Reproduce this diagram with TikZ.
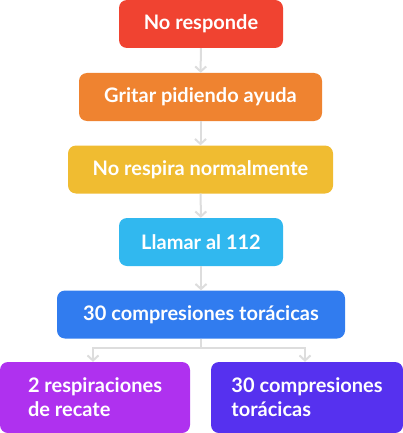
\documentclass[tikz,border=0pt]{standalone}
\usepackage{fontspec}
\setmainfont{Lato}
\usetikzlibrary{arrows.meta}
\definecolor{rojo}{HTML}{F04331}
\definecolor{naranja}{HTML}{EF8330}
\definecolor{amarillo}{HTML}{F0BC31}
\definecolor{celeste}{HTML}{31B8EF}
\definecolor{azul}{HTML}{317CEF}
\definecolor{morado}{HTML}{AF31EF}
\definecolor{indigo}{HTML}{5631EF}
\definecolor{flecha}{HTML}{DDDDDD}
\tikzset{
  paso/.style={rounded corners=8pt, text=white, inner sep=0pt, align=left,
    font=\bfseries\fontsize{20}{24}\selectfont},
  arr/.style={draw=flecha, line width=2pt, -{Straight Barb[length=5pt,width=11pt]}}
}

\begin{document}
\begin{tikzpicture}[x=1pt, y=-1pt]
    \useasboundingbox (0, 0) rectangle (403, 433);
    % pasos
    \node[paso, fill=rojo, minimum width=164pt, minimum height=48pt] (p1) at (201, 24) {No responde};
    \node[paso, fill=naranja, minimum width=243pt, minimum height=48pt] (p2) at (200.5, 97) {Gritar pidiendo ayuda};
    \node[paso, fill=amarillo, minimum width=265pt, minimum height=48pt] (p3) at (200.5, 169.5) {No respira normalmente};
    \node[paso, fill=celeste, minimum width=164pt, minimum height=48pt] (p4) at (201, 242) {Llamar al 112};
    \node[paso, fill=azul, minimum width=288pt, minimum height=48pt] (p5) at (201, 314.5) {30 compresiones torácicas};
    \node[paso, fill=morado, minimum width=190pt, minimum height=71pt] (p6) at (95, 397.5) {2 respiraciones\\de recate};
    \node[paso, fill=indigo, minimum width=192pt, minimum height=71pt] (p7) at (307, 397.5) {30 compresiones\\torácicas};
    % flechas
    \draw[arr] (p1) -- (p2);
    \draw[arr] (p2) -- (p3);
    \draw[arr] (p3) -- (p4);
    \draw[arr] (p4) -- (p5);
    \coordinate (rama) at (201, 348);
    \draw[arr] (p5.south) -- (rama) -| ([xshift=-2pt]p6.north);
    \draw[arr] (rama) -| ([xshift=-2pt]p7.north);
\end{tikzpicture}
\end{document}
